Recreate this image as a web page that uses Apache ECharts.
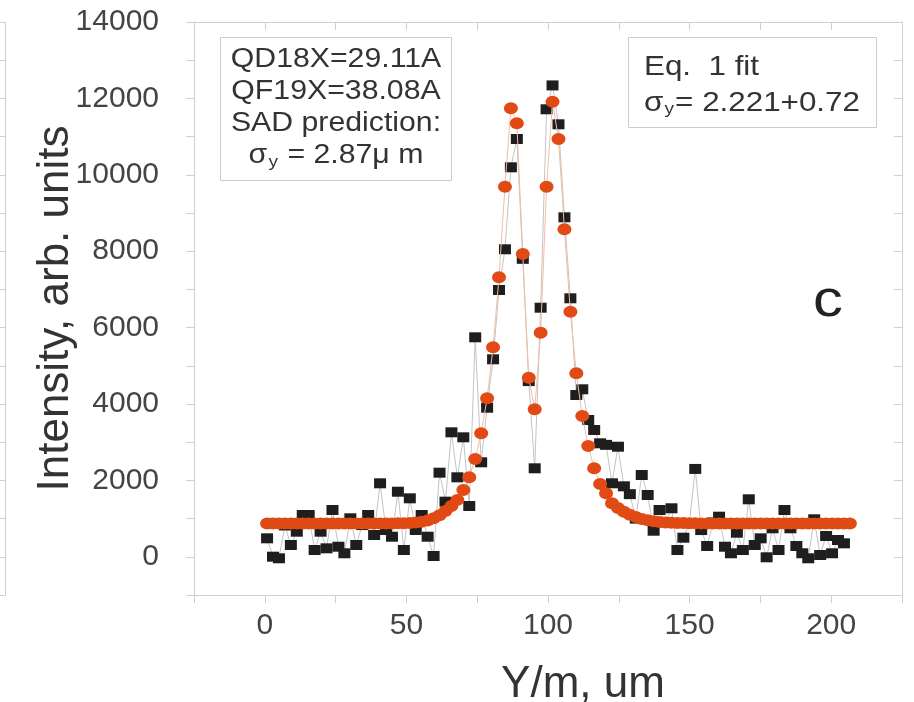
<!DOCTYPE html>
<html>
<head>
<meta charset="utf-8">
<script src="https://cdn.jsdelivr.net/npm/echarts@6/dist/echarts.min.js"></script>
<style>
html,body{margin:0;padding:0;background:#fff;}
#chart{width:914px;height:702px;}
</style>
</head>
<body>
<div id="chart"></div>
<script>
// Sample positions along Y/m (um)
const xPos = [0.8, 2.9, 5.0, 7.1, 9.2, 11.3, 13.4, 15.5, 17.6, 19.7,
  21.8, 23.9, 26.0, 28.1, 30.2, 32.3, 34.4, 36.5, 38.6, 40.7,
  42.8, 44.9, 47.0, 49.1, 51.2, 53.3, 55.4, 57.5, 59.6, 61.7,
  63.8, 65.9, 68.0, 70.1, 72.2, 74.3, 76.4, 78.5, 80.6, 82.7,
  84.8, 86.9, 89.0, 91.1, 93.2, 95.3, 97.4, 99.5, 101.6, 103.7,
  105.8, 107.9, 110.0, 112.1, 114.2, 116.3, 118.4, 120.5, 122.6, 124.7,
  126.8, 128.9, 131.0, 133.1, 135.2, 137.3, 139.4, 141.5, 143.6, 145.7,
  147.8, 149.9, 152.0, 154.1, 156.2, 158.3, 160.4, 162.5, 164.6, 166.7,
  168.8, 170.9, 173.0, 175.1, 177.2, 179.3, 181.4, 183.5, 185.6, 187.7,
  189.8, 191.9, 194.0, 196.1, 198.2, 200.3, 202.4, 204.5, 206.6];

// Measured intensity (black squares)
const intensity = [484, 3, -39, 820, 309, 657, 1094, 1094, 178, 657,
  222, 1225, 264, 92, 1008, 309, 830, 1094, 571, 1924,
  702, 526, 1704, 178, 1531, 702, 1094, 526, 21, 2202,
  1443, 3259, 2081, 3128, 1330, 5746, 2474, 3903, 5170, 6984,
  8050, 10196, 10937, 7800, 4600, 2317, 6521, 11715, 12340, 11322,
  8887, 6767, 4236, 4385, 3581, 3319, 2971, 2930, 1924, 2882,
  1845, 1640, 1000, 2141, 1618, 683, 1225, 900, 1270, 178,
  500, 880, 2300, 700, 283, 900, 1050, 264, 92, 631,
  178, 1505, 309, 484, -13, 746, 178, 1225, 746, 283,
  92, -39, 982, 47, 545, 92, 440, 353];

// Eq. 1 fit (orange circles)
const fitCurve = [870, 870, 870, 870, 870, 870, 870, 870, 870, 870,
  870, 870, 870, 870, 870, 870, 870, 870, 870, 871,
  872, 874, 877, 881, 887, 896, 915, 950, 1010, 1090,
  1200, 1330, 1490, 1750, 2081, 2560, 3233, 4149, 5484, 7317,
  9689, 11741, 11348, 7927, 4689, 3861, 5866, 9689, 11914, 10937,
  8573, 6416, 4804, 3686, 2901, 2317, 1906, 1662, 1401, 1280,
  1181, 1100, 1040, 990, 955, 930, 912, 900, 892, 886,
  882, 879, 877, 875, 874, 873, 872, 872, 871, 871,
  871, 870, 870, 870, 870, 870, 870, 870, 870, 870,
  870, 870, 870, 870, 870, 870, 870, 870, 870];

const xTickLabels = ['0', '50', '100', '150', '200'];
const yTickLabels = ['0', '2000', '4000', '6000', '8000', '10000', '12000', '14000'];
const xTitle = 'Y/m, um';
const yTitle = 'Intensity, arb. units';
const box1Lines = ['QD18X=29.11A', 'QF19X=38.08A', 'SAD prediction:', '{n|σ}{s|y}{n| = 2.87μ m}'];
const box2Lines = ['Eq.  1 fit', '{n|σ}{s|y}{n|= 2.221+0.72}'];
const panelLetter = 'c';

const FONT = '"Liberation Sans", Arial, sans-serif';
const AX = '#cfcfcf';

const blackData = intensity.map((v, i) => [xPos[i], v]);
const fitData = fitCurve.map((v, i) => [xPos[i], v]);

const chart = echarts.init(document.getElementById('chart'), null, {renderer: 'canvas'});

function richFor(size) {
  return {
    n: {fontSize: size, fontFamily: FONT, fill: '#333'},
    s: {fontSize: Math.round(size * 0.62), fontFamily: FONT, fill: '#333', verticalAlign: 'bottom', padding: [Math.round(size*0.45), 1, 0, 1]}
  };
}

const graphics = [
  {type: 'rect', shape: {x: 220.5, y: 37.5, width: 231, height: 143}, style: {fill: '#fff', stroke: '#cccccc', lineWidth: 1}, z: 10},
  {type: 'rect', shape: {x: 628.5, y: 37.5, width: 248, height: 90}, style: {fill: '#fff', stroke: '#cccccc', lineWidth: 1}, z: 10}
];
const box1Y = [60, 92, 124, 156];
box1Lines.forEach((t, i) => {
  graphics.push({type: 'text', x: 336, y: box1Y[i], scaleX: 1.12, z: 11,
    style: {text: t, fontSize: 27, fontFamily: FONT, fill: '#333', align: 'center', verticalAlign: 'middle', rich: richFor(27)}});
});
const box2Y = [67, 103];
box2Lines.forEach((t, i) => {
  graphics.push({type: 'text', x: 644, y: box2Y[i], scaleX: 1.12, z: 11,
    style: {text: t, fontSize: 28, fontFamily: FONT, fill: '#333', align: 'left', verticalAlign: 'middle', rich: richFor(28)}});
});
graphics.push({type: 'text', x: 828, y: 302, scaleX: 1.15, z: 11,
  style: {text: panelLetter, fontSize: 52, fontFamily: FONT, fill: '#222', align: 'center', verticalAlign: 'middle'}});

const lineStyleAx = {show: true, onZero: false, lineStyle: {color: AX, width: 1}};

const option = {
  animation: false,
  backgroundColor: '#fff',
  grid: [
    {left: 194, right: 12, top: 22, bottom: 107, containLabel: false, outerBoundsMode: 'none'},
    {left: 0, right: 909, top: 22, bottom: 107, containLabel: false, outerBoundsMode: 'none'}
  ],
  xAxis: [
    {
      gridIndex: 0, type: 'value', min: -25, max: 225, interval: 25, position: 'bottom',
      axisLine: lineStyleAx,
      axisTick: {show: true, inside: false, length: 8, lineStyle: {color: AX}},
      axisLabel: {
        fontSize: 30, fontFamily: FONT, color: '#444', margin: 16,
        formatter: v => xTickLabels.includes(String(v)) ? String(v) : ''
      },
      splitLine: {show: false},
      name: xTitle, nameLocation: 'middle', nameGap: 68, nameMoveOverlap: false,
      nameTextStyle: {fontSize: 44, fontFamily: FONT, color: '#333', padding: [0, 0, 0, 70]}
    },
    {
      gridIndex: 0, type: 'value', min: -25, max: 225, interval: 25, position: 'top',
      axisLine: lineStyleAx,
      axisTick: {show: true, inside: true, length: 8, lineStyle: {color: AX}},
      axisLabel: {show: false}, splitLine: {show: false}
    },
    {
      gridIndex: 1, type: 'value', min: 0, max: 1, position: 'bottom',
      axisLine: lineStyleAx, axisTick: {show: false},
      axisLabel: {show: false}, splitLine: {show: false}
    }
  ],
  yAxis: [
    {
      gridIndex: 0, type: 'value', min: -1000, max: 14000, interval: 1000, position: 'left',
      axisLine: lineStyleAx,
      axisTick: {show: true, inside: false, length: 8, lineStyle: {color: AX}},
      axisLabel: {
        fontSize: 30, fontFamily: FONT, color: '#444', margin: 35,
        formatter: v => yTickLabels.includes(String(v)) ? String(v) : ''
      },
      splitLine: {show: false},
      name: yTitle, nameLocation: 'middle', nameGap: 116, nameMoveOverlap: false,
      nameTextStyle: {fontSize: 44, fontFamily: FONT, color: '#333'}
    },
    {
      gridIndex: 0, type: 'value', min: -1000, max: 14000, interval: 1000, position: 'right',
      axisLine: lineStyleAx,
      axisTick: {show: true, inside: true, length: 8, lineStyle: {color: AX}},
      axisLabel: {show: false}, splitLine: {show: false}
    },
    {
      gridIndex: 1, type: 'value', min: -1000, max: 14000, interval: 1000, position: 'right',
      axisLine: lineStyleAx,
      axisTick: {show: true, inside: true, length: 6, lineStyle: {color: AX}},
      axisLabel: {show: false}, splitLine: {show: false}
    }
  ],
  series: [
    {
      name: 'Measured', type: 'line', xAxisIndex: 0, yAxisIndex: 0,
      data: blackData, showSymbol: true, showAllSymbol: true,
      symbol: 'rect', symbolSize: [12, 10],
      itemStyle: {color: '#1e1e1e'},
      lineStyle: {color: '#c4c4c4', width: 1},
      z: 3
    },
    {
      name: 'Eq. 1 fit', type: 'line', xAxisIndex: 0, yAxisIndex: 0,
      data: fitData, showSymbol: true, showAllSymbol: true,
      symbol: 'circle', symbolSize: [14, 12],
      itemStyle: {color: '#e14a14'},
      lineStyle: {color: '#f3bca6', width: 1},
      z: 4
    }
  ],
  graphic: graphics
};
chart.setOption(option);
</script>
</body>
</html>
